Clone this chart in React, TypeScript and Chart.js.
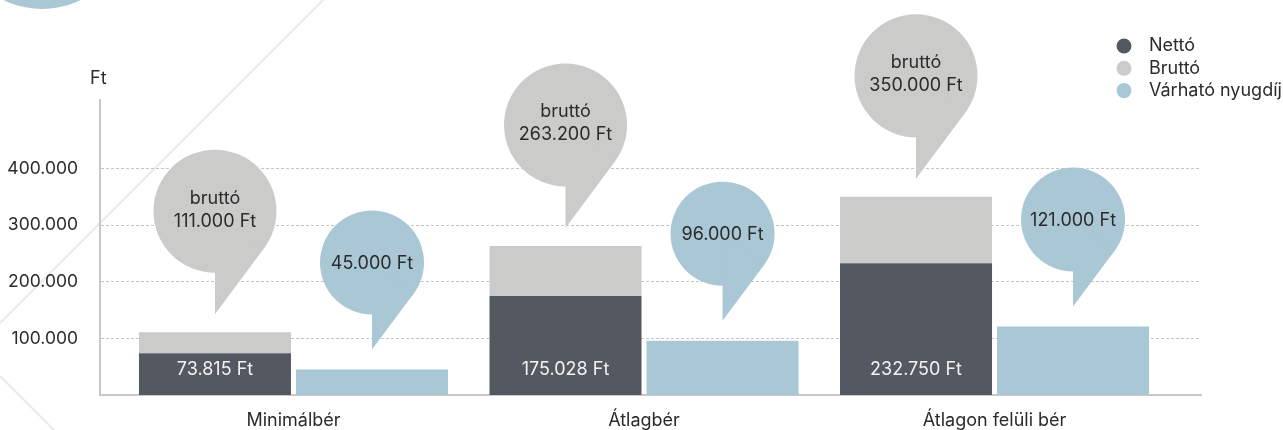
import React, { useEffect, useRef } from 'react';
import { Chart, registerables } from 'chart.js';

Chart.register(...registerables);

const categories = ['Minimálbér', 'Átlagbér', 'Átlagon felüli bér'];
const seriesNames = ['Nettó', 'Bruttó', 'Várható nyugdíj'];
const netto = [73815, 175028, 232750];
const brutto = [111000, 263200, 350000];
const nyugdij = [45000, 96000, 121000];
const yTicks = [100000, 200000, 300000, 400000];
const unitLabel = 'Ft';
const bubbleWord = 'bruttó';

const COLORS = ['#545961', '#cbcbc9', '#a9c7d5'];
const FONT = 'Inter, "Noto Sans", sans-serif';
const TEXT = '#2b2b2b';
const FS = 18;

const fmt = (v: number) => String(Math.round(v)).replace(/\B(?=(\d{3})+(?!\d))/g, '.');

function drawBubble(ctx: CanvasRenderingContext2D, cx: number, cy: number, r: number, tipY: number, color: string) {
  const a = (36 * Math.PI) / 180;
  ctx.save();
  ctx.fillStyle = color;
  ctx.beginPath();
  ctx.arc(cx, cy, r, 0, Math.PI * 2);
  ctx.fill();
  ctx.beginPath();
  ctx.moveTo(cx, cy);
  ctx.lineTo(cx + r * Math.cos(a), cy + r * Math.sin(a));
  ctx.lineTo(cx, tipY);
  ctx.closePath();
  ctx.fill();
  ctx.restore();
}

const decorPlugin = {
  id: 'decor',
  beforeDraw(chart: any) {
    const ctx = chart.ctx as CanvasRenderingContext2D;
    ctx.save();
    ctx.strokeStyle = '#ebebeb';
    ctx.lineWidth = 2;
    ctx.beginPath();
    ctx.moveTo(323, 0);
    ctx.lineTo(0, 323);
    ctx.moveTo(0, 376);
    ctx.lineTo(54, 430);
    ctx.stroke();
    ctx.fillStyle = COLORS[2];
    ctx.beginPath();
    ctx.arc(42, -78, 87, 0, Math.PI * 2);
    ctx.fill();
    ctx.restore();
  },
};

const overlayPlugin = {
  id: 'overlay',
  afterDatasetsDraw(chart: any) {
    const ctx = chart.ctx as CanvasRenderingContext2D;
    const m0 = chart.getDatasetMeta(0);
    const m1 = chart.getDatasetMeta(1);
    const m2 = chart.getDatasetMeta(2);
    const base = chart.scales.y.getPixelForValue(0);
    ctx.save();
    ctx.font = `${FS}px ${FONT}`;
    ctx.textAlign = 'center';
    ctx.textBaseline = 'middle';
    categories.forEach((_, i) => {
      const nb = m0.data[i];
      ctx.fillStyle = '#f2f2f2';
      ctx.fillText(`${fmt(netto[i])} ${unitLabel}`, nb.x, base - 25);

      const bb = m1.data[i];
      const tipG = bb.y - 18;
      const cyG = tipG - 103;
      drawBubble(ctx, bb.x, cyG, 61.5, tipG, COLORS[1]);
      ctx.fillStyle = TEXT;
      ctx.fillText(bubbleWord, bb.x, cyG - 13);
      ctx.fillText(`${fmt(brutto[i])} ${unitLabel}`, bb.x, cyG + 10);

      const pb = m2.data[i];
      const tipB = pb.y - 20;
      const cyB = tipB - 87;
      drawBubble(ctx, pb.x, cyB, 52, tipB, COLORS[2]);
      ctx.fillStyle = TEXT;
      ctx.fillText(`${fmt(nyugdij[i])} ${unitLabel}`, pb.x, cyB + 1);
    });

    ctx.textAlign = 'left';
    ctx.fillStyle = TEXT;
    ctx.fillText(unitLabel, 90, 79);

    seriesNames.forEach((name, i) => {
      const y = 46 + i * 22.3;
      ctx.fillStyle = COLORS[i];
      ctx.beginPath();
      ctx.arc(1124, y, 7.5, 0, Math.PI * 2);
      ctx.fill();
      ctx.fillStyle = TEXT;
      ctx.fillText(name, 1149, y);
    });
    ctx.restore();
  },
};

export default function App() {
  const ref = useRef<HTMLCanvasElement | null>(null);
  useEffect(() => {
    document.body.style.margin = '0';
    const canvas = ref.current;
    if (!canvas) return;
    const chart = new Chart(canvas, {
      type: 'bar',
      data: {
        datasets: [
          {
            label: seriesNames[0],
            data: netto.map((v, i) => ({ x: i, y: v })),
            backgroundColor: COLORS[0],
            stack: 'a',
          },
          {
            label: seriesNames[1],
            data: brutto.map((v, i) => ({ x: i, y: v - netto[i] })),
            backgroundColor: COLORS[1],
            stack: 'a',
          },
          {
            label: seriesNames[2],
            data: nyugdij.map((v, i) => ({ x: i, y: v })),
            backgroundColor: COLORS[2],
            stack: 'b',
          },
        ] as any,
      },
      options: {
        responsive: false,
        animation: false,
        events: [],
        layout: { padding: { left: 0, top: 100, right: 82, bottom: 0 } },
        datasets: { bar: { categoryPercentage: 0.896, barPercentage: 0.968 } } as any,
        plugins: { legend: { display: false }, tooltip: { enabled: false } },
        scales: {
          x: {
            type: 'linear',
            offset: false,
            min: -0.552,
            max: 2.589,
            afterBuildTicks: (s: any) => {
              s.ticks = categories.map((_, i) => ({ value: i }));
            },
            afterFit: (s: any) => {
              s.height = 35;
            },
            grid: { display: true, offset: false, color: 'rgba(0,0,0,0)', drawTicks: false },
            border: { display: true, color: '#c8c8c8', width: 2 },
            ticks: {
              autoSkip: false,
              maxRotation: 0,
              padding: 15,
              color: TEXT,
              font: { family: FONT, size: FS },
              callback: (v: any) => categories[v] ?? '',
            },
          },
          y: {
            type: 'linear',
            stacked: true,
            min: 0,
            max: 521000,
            afterBuildTicks: (s: any) => {
              s.ticks = yTicks.map((v) => ({ value: v }));
            },
            afterFit: (s: any) => {
              s.width = 100;
            },
            grid: { color: '#c4c4c4', lineWidth: 1, drawTicks: false },
            border: { display: true, color: '#c8c8c8', width: 2, dash: [3, 2] },
            ticks: {
              padding: 22,
              color: TEXT,
              font: { family: FONT, size: 17.5 },
              callback: (v: any) => fmt(Number(v)),
            },
          },
        },
      } as any,
      plugins: [decorPlugin, overlayPlugin],
    });
    return () => chart.destroy();
  }, []);
  return (
    <div style={{ width: 1283, height: 430 }}>
      <canvas ref={ref} width={1283} height={430} style={{ display: 'block' }} />
    </div>
  );
}
